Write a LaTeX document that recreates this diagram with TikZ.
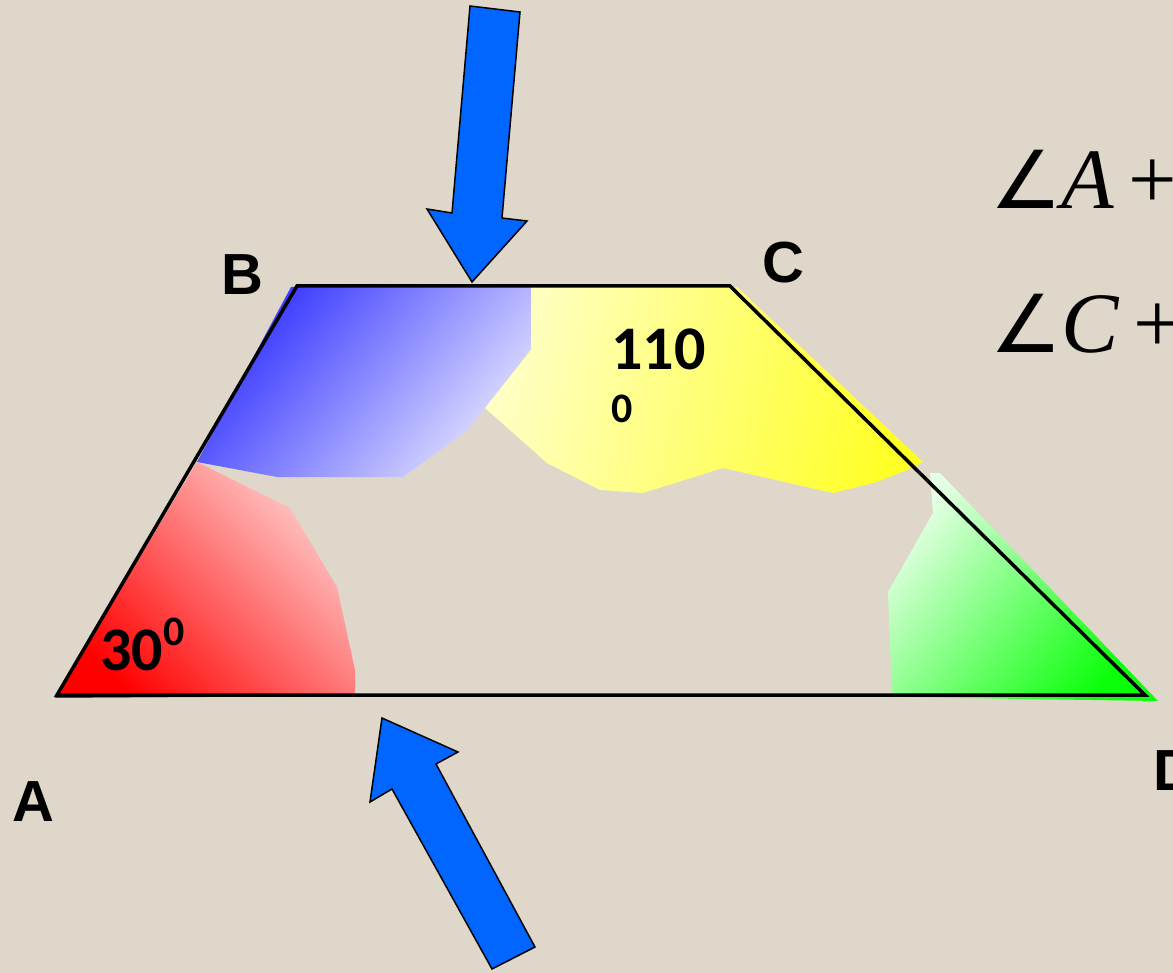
\documentclass[tikz,border=0pt]{standalone}
\usepackage{fontspec}
\newfontfamily\lblfont{Liberation Sans}
\newfontfamily\numfont{Carlito}
\newfontfamily\tnr{Liberation Serif}
\newfontfamily\djv{DejaVu Sans}
\definecolor{bg}{RGB}{223,215,201}
\definecolor{arrowblue}{RGB}{0,102,255}
\definecolor{blueD}{RGB}{50,50,255}
\definecolor{blueL}{RGB}{225,225,255}
\definecolor{yelL}{RGB}{255,255,195}
\definecolor{yelD}{RGB}{255,255,40}
\definecolor{pinkL}{RGB}{255,205,205}
\definecolor{redD}{RGB}{255,0,0}
\definecolor{grnL}{RGB}{228,255,228}
\definecolor{grnD}{RGB}{10,255,10}
\newcommand{\bigangle}{{\djv\fontsize{80}{84}\selectfont ∠}}
\begin{document}
\begin{tikzpicture}[x=1pt,y=-1pt,
  bigarrow/.style={fill=arrowblue,draw=black,line width=1.5pt,line join=miter},
  vlabel/.style={anchor=base west,inner sep=0pt,font=\lblfont\bfseries\fontsize{58}{60}\selectfont},
  numlabel/.style={anchor=base west,inner sep=0pt,font=\numfont\bfseries\fontsize{62}{64}\selectfont},
  smallnum/.style={anchor=base west,inner sep=0pt,font=\numfont\bfseries\fontsize{42}{44}\selectfont},
  eqlabel/.style={anchor=base west,inner sep=0pt,font=\tnr\fontsize{86}{90}\selectfont}]
\fill[bg] (0,0) rectangle (1173,973);
\useasboundingbox (0,0) rectangle (1173,973);

% vertices
\coordinate (A) at (57,695);
\coordinate (B) at (297,286);
\coordinate (C) at (730,286);
\coordinate (D) at (1145,695);

% coloured angle regions
\shade[top color=blueD,bottom color=blueL,shading angle=50]
  (291,287) -- (531,287) -- (531,348) -- (485,408) -- (468,430) -- (403,477)
  -- (277,477) -- (197,462) -- cycle;
\shade[left color=yelL,right color=yelD,shading angle=75]
  (531,287) -- (737,287) -- (923,462) -- (907,470) -- (877,482) -- (833,493)
  -- (723,468) -- (643,493) -- (600,490) -- (547,463) -- (485,408) -- (531,350) -- cycle;
\shade[top color=pinkL,bottom color=redD,shading angle=-45]
  (55,698) -- (197,462) -- (290,508) -- (337,587) -- (355,670) -- (355,696) -- cycle;
\shade[top color=grnL,bottom color=grnD,shading angle=50]
  (930,473) -- (940,473) -- (1158,701) -- (892,697) -- (888,592) -- (933,513) -- cycle;

% trapezoid
\draw[black,line width=3.5pt,line join=miter] (A) -- (B) -- (C) -- (D) -- cycle;

% arrows
\draw[bigarrow] (470,6) -- (520,12) -- (502,218) -- (527,221) -- (472,282)
  -- (427,209) -- (452,213) -- cycle;
\draw[bigarrow] (382,718) -- (458,752) -- (436,764) -- (535,947) -- (492,969)
  -- (392,789) -- (370,802) -- cycle;

% vertex labels
\node[vlabel] (lA) at (12,821) {A};
\node[vlabel] (lB) at (221,295) {B};
\node[vlabel] (lC) at (762,283) {C};
\node[vlabel] (lD) at (1153,790) {D};

% angle values
\node[numlabel] (n110) at (611,370) {110};
\node[smallnum] (n110s) at (611,423) {0};
\node[numlabel] (n30) at (100,670) {30};
\node[smallnum] (n30s) at (163,645) {0};

% equations (cut off at the right edge)
\node[eqlabel] (eq1) at (990,209) {\bigangle\itshape A\upshape\,+};
\node[eqlabel] (eq2) at (990,353) {\bigangle\itshape C\upshape\,+};
\end{tikzpicture}
\end{document}
